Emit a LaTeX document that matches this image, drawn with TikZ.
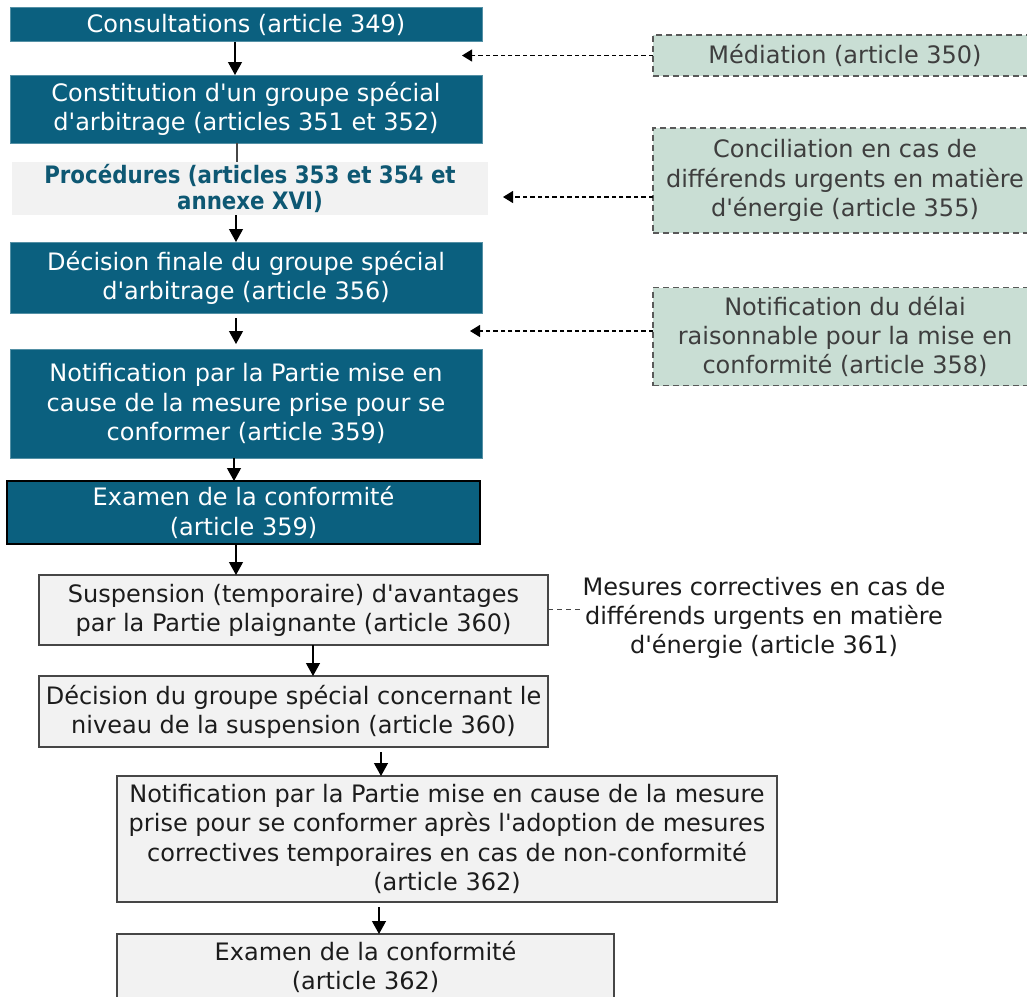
\documentclass[tikz,border=0pt]{standalone}
\usepackage{fontspec}
\setmainfont{DejaVu Sans}[Ligatures=TeXOff]
\newfontfamily\procfont{DejaVu Sans}[FakeStretch=0.89,Ligatures=TeXOff]
\usetikzlibrary{arrows.meta}
\definecolor{tealA}{RGB}{11,96,127}
\definecolor{greenbox}{RGB}{201,222,212}
\definecolor{graybox}{RGB}{242,242,242}
\definecolor{txtdark}{RGB}{28,28,28}
\definecolor{txtgray}{RGB}{62,62,62}
\definecolor{procteal}{RGB}{14,88,115}
\definecolor{edgegray}{RGB}{70,70,70}
\begin{document}
\begin{tikzpicture}[x=0.5pt,y=-0.5pt,
  base/.style={inner sep=0pt, outer sep=0pt, align=center,
    font=\fontsize{12pt}{14.6pt}\selectfont},
  tealbox/.style={base, fill=tealA, text=white, draw=tealA!70!white, line width=0.4pt},
  procbox/.style={base, fill=graybox, text=procteal,
    font=\procfont\bfseries\fontsize{12pt}{13.4pt}\selectfont},
  graybx/.style={base, fill=graybox, text=txtdark, draw=edgegray, line width=0.75pt},
  greenbx/.style={base, fill=greenbox, text=txtgray, draw=edgegray!90,
    line width=0.6pt, dash pattern=on 3pt off 2pt},
  arr/.style={-{Triangle[length=6.5pt,width=7pt]}, line width=0.6pt, black},
  darr/.style={-{Triangle[length=5pt,width=6pt]}, line width=0.55pt, black,
    dash pattern=on 2.2pt off 1.5pt},
]
\useasboundingbox (0,0) rectangle (1027,996);
\fill[white] (0,0) rectangle (1027,996);

% main column
\node[tealbox, minimum width=236pt, minimum height=17pt] (c1) at (246,24.5)
  {Consultations (article 349)};
\node[tealbox, minimum width=236pt, minimum height=34pt] (c2) at (246,109)
  {Constitution d'un groupe spécial\\d'arbitrage (articles 351 et 352)};
\node[procbox, minimum width=238pt, minimum height=26.5pt] (c3) at (250,188.5)
  {Procédures (articles 353 et 354 et\\annexe XVI)};
\node[tealbox, minimum width=236pt, minimum height=35.5pt] (c4) at (246,277.5)
  {Décision finale du groupe spécial\\d'arbitrage (article 356)};
\node[tealbox, minimum width=236pt, minimum height=54.5pt] (c5) at (246,403.5)
  {Notification par la Partie mise en\\cause de la mesure prise pour se\\conformer (article 359)};
\node[tealbox, draw=black, line width=0.75pt, minimum width=236.5pt, minimum height=31.5pt] (c6) at (243.5,512.5)
  {Examen de la conformité\\(article 359)};
\node[graybx, minimum width=254.5pt, minimum height=35pt] (c7) at (293.5,610)
  {Suspension (temporaire) d'avantages\\par la Partie plaignante (article 360)};
\node[graybx, minimum width=254.5pt, minimum height=35.5pt] (c8) at (293.5,711.5)
  {Décision du groupe spécial concernant le\\niveau de la suspension (article 360)};
\node[graybx, minimum width=330pt, minimum height=63pt] (c9) at (447,839)
  {Notification par la Partie mise en cause de la mesure\\prise pour se conformer après l'adoption de mesures\\correctives temporaires en cas de non-conformité\\(article 362)};
\node[graybx, minimum width=248.5pt, minimum height=33pt] (c10) at (365.5,967)
  {Examen de la conformité\\(article 362)};

% side boxes
\node[greenbx, minimum width=192pt, minimum height=20.5pt] (med) at (845,55.5)
  {Médiation (article 350)};
\node[greenbx, minimum width=192pt, minimum height=52.5pt] (conc) at (845,180.5)
  {Conciliation en cas de\\différends urgents en matière\\d'énergie (article 355)};
\node[greenbx, minimum width=192pt, minimum height=49pt] (delai) at (845,336.5)
  {Notification du délai\\raisonnable pour la mise en\\conformité (article 358)};
\node[base, text=txtdark] (mes) at (764,618)
  {Mesures correctives en cas de\\différends urgents en matière\\d'énergie (article 361)};

% vertical connectors
\coordinate (x1) at (235,0);
\coordinate (x2) at (237,0);
\coordinate (x3) at (236,0);
\coordinate (x5) at (234,0);
\coordinate (x7) at (313,0);
\coordinate (x8) at (381,0);
\coordinate (x9) at (379,0);
\draw[arr] (x1 |- c1.south) -- (x1 |- c2.north);
\draw[line width=0.6pt, edgegray] (x2 |- c2.south) -- (x2 |- c3.north);
\draw[arr] (x3 |- c3.south) -- (x3 |- c4.north);
\draw[arr, shorten <=2.5pt, shorten >=2.5pt] (x3 |- c4.south) -- (x3 |- c5.north);
\draw[arr] (x5 |- c5.south) -- (x5 |- c6.north);
\draw[arr] (x3 |- c6.south) -- (x3 |- c7.north);
\draw[arr] (x7 |- c7.south) -- (x7 |- c8.north);
\draw[arr, shorten <=2.5pt] (x8 |- c8.south) -- (x8 |- c9.north);
\draw[arr, shorten <=2.5pt] (x9 |- c9.south) -- (x9 |- c10.north);

% dashed side connectors
\coordinate (amed) at (462,55.5);
\coordinate (aconc) at (503,197);
\coordinate (adel) at (470,331);
\coordinate (ames) at (583,609);
\draw[darr] (med.west) -- (amed);
\draw[darr] (conc.west |- aconc) -- (aconc);
\draw[darr] (delai.west |- adel) -- (adel);
\draw[line width=0.5pt, dash pattern=on 2.5pt off 2pt, edgegray] (c7.east |- ames) -- (ames);
\end{tikzpicture}
\end{document}
